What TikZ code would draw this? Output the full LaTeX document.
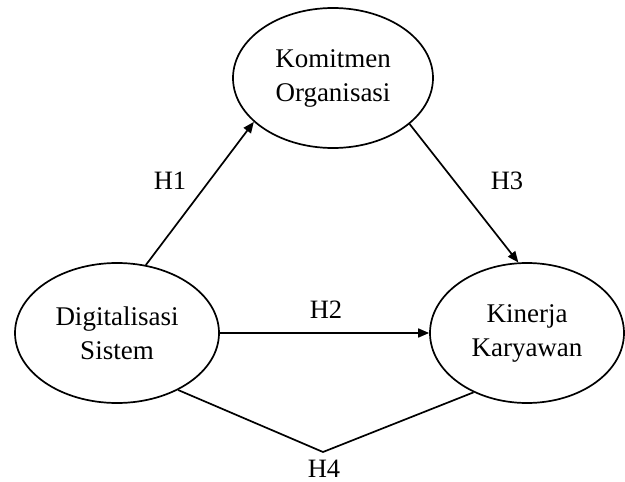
\documentclass[tikz,border=0pt]{standalone}
\usepackage{fontspec}
\setmainfont{Liberation Serif}
\usetikzlibrary{shapes.geometric,arrows.meta}

\begin{document}
\begin{tikzpicture}[x=1pt, y=-1pt, line width=1.7pt,
		var/.style={draw, ellipse, inner sep=0pt, minimum width=204pt, minimum height=140pt, align=center, font=\fontsize{27}{34}\selectfont},
		hyp/.style={font=\fontsize{26.5}{33}\selectfont},
		>={Triangle[length=11pt, width=9pt]}]
				\useasboundingbox (0,0) rectangle (625,482);
				\node[var] (DS)at(117, 333) {Digitalisasi\\Sistem};
				\node[var, minimum width=200pt] (KO)at(333, 78) {Komitmen\\Organisasi};
				\node[var, minimum width=194pt] (KK)at(527, 333) {Kinerja\\Karyawan};
				\coordinate (V)at(323, 452);
				\draw[->] (DS.67) -- (KO.-151);
				\draw[->] (KO.-31) -- (KK.97);
				\draw[->] (DS.east) -- (KK.west);
				\draw (DS.-43) -- (V) -- (KK.-132);
				\node[hyp] (H1)at(170, 181) {H1};
				\node[hyp] (H2)at(326, 310) {H2};
				\node[hyp] (H3)at(507, 181) {H3};
				\node[hyp] (H4)at(324, 469) {H4};
			\end{tikzpicture}
\end{document}
